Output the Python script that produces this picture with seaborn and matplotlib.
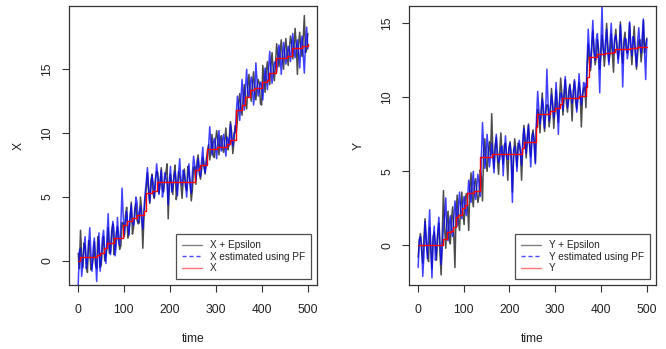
import numpy as np
import pandas as pd
import matplotlib
matplotlib.use("Agg")
import matplotlib.pyplot as plt
import seaborn as sns
from matplotlib.lines import Line2D

# time axis (200 samples over 1..500)
time = np.linspace(1, 500, 200)

# X panel: observed (X + Epsilon) and particle filter estimate
x_obs = [0.6, -0.6, 2.4, 0.5, -0.5, 1.4, 1.2, -0.2, -0.9, 1.6,
         0.9, -0.7, -0.4, 0.2, 1.5, -0.3, -0.6, 1.9, 1.3, -0.5,
         -0.3, 1.3, 1.9, 0.0, 0.4, 1.1, 2.6, 0.6, 0.7, 2.4,
         2.9, 0.5, 1.0, 2.2, 2.7, 1.6, 0.9, 1.2, 3.0, 2.9,
         1.9, 3.6, 4.2, 1.8, 2.3, 3.3, 4.6, 2.1, 2.6, 4.0,
         4.5, 3.2, 2.9, 3.0, 5.0, 3.9, 1.0, 3.4, 4.8, 5.6,
         6.9, 5.5, 4.5, 6.3, 6.8, 5.2, 4.9, 6.5, 7.0, 6.9,
         5.3, 6.0, 7.3, 5.6, 5.4, 6.4, 6.9, 7.6, 3.3, 5.9,
         6.8, 5.9, 5.2, 6.8, 7.5, 4.8, 5.6, 7.0, 6.6, 6.0,
         4.9, 6.3, 7.2, 5.8, 5.5, 7.4, 6.9, 6.1, 4.7, 5.6,
         7.3, 7.4, 6.0, 7.8, 8.3, 6.8, 6.4, 7.2, 8.1, 7.6,
         6.8, 7.9, 8.6, 9.1, 7.9, 8.6, 9.9, 8.2, 8.1, 9.4,
         10.2, 9.5, 8.3, 9.6, 9.8, 8.8, 8.5, 9.4, 10.4, 9.0,
         8.7, 9.8, 10.9, 10.1, 8.4, 9.3, 10.6, 10.0, 11.0, 12.3,
         13.1, 12.0, 11.4, 12.8, 13.8, 12.5, 11.9, 13.6, 14.6, 13.3,
         12.5, 13.9, 14.8, 13.3, 12.6, 13.6, 14.2, 13.9, 12.3, 12.2,
         15.3, 14.3, 13.2, 14.9, 15.6, 14.4, 13.8, 15.2, 16.3, 15.0,
         14.1, 15.4, 17.0, 16.1, 15.2, 16.4, 17.3, 15.9, 15.0, 16.6,
         17.4, 16.2, 15.3, 16.6, 17.6, 17.0, 15.8, 16.6, 18.2, 16.9,
         14.6, 17.0, 17.9, 16.6, 16.0, 17.4, 19.2, 16.3, 16.5, 17.8]
x_pf = [-1.9, 0.8, 1.0, -1.2, -0.3, 1.0, 1.9, -0.6, 0.0, 1.2,
        2.6, 0.7, -0.8, 1.0, 1.8, 0.2, -1.6, 0.6, 2.2, -0.8,
        0.2, 1.8, 2.4, 0.6, -0.2, 2.0, 3.7, 1.0, 0.5, 1.9,
        3.1, 2.5, 0.4, 1.3, 3.4, 1.8, 1.2, 2.9, 5.7, 3.6,
        2.1, 3.0, 3.9, 2.8, 2.0, 3.6, 4.4, 3.0, 2.8, 3.5,
        5.0, 4.6, 3.0, 3.8, 4.3, 3.3, 2.5, 4.1, 5.3, 6.2,
        7.3, 5.8, 4.6, 5.6, 6.7, 6.1, 5.0, 6.2, 7.6, 6.5,
        5.2, 6.3, 7.1, 5.0, 5.6, 6.9, 6.5, 6.1, 4.4, 6.3,
        7.4, 5.4, 5.8, 6.6, 7.0, 6.2, 5.1, 6.9, 8.0, 6.3,
        5.9, 7.1, 6.8, 6.1, 5.0, 6.5, 7.6, 6.0, 5.3, 6.9,
        8.2, 7.5, 6.3, 7.2, 8.0, 7.1, 6.6, 7.9, 8.9, 7.3,
        6.9, 7.6, 8.2, 8.9, 10.5, 9.3, 8.3, 9.2, 9.6, 9.0,
        8.0, 9.4, 10.2, 9.1, 8.6, 9.5, 9.9, 8.9, 8.2, 9.7,
        9.5, 9.0, 10.7, 9.4, 9.0, 10.0, 10.1, 11.5, 12.9, 12.2,
        11.0, 12.6, 14.2, 12.9, 11.8, 13.5, 15.0, 13.2, 12.8, 13.7,
        14.4, 13.9, 12.2, 13.1, 15.5, 14.1, 12.9, 13.4, 14.0, 13.8,
        12.6, 14.0, 15.1, 14.3, 13.4, 14.9, 16.4, 15.0, 13.9, 14.7,
        15.5, 15.6, 14.8, 15.6, 16.9, 16.2, 14.6, 15.8, 17.1, 16.3,
        15.4, 16.1, 16.8, 16.4, 15.6, 16.9, 17.8, 16.5, 15.9, 16.6,
        17.3, 16.3, 15.1, 16.9, 17.6, 16.1, 14.7, 17.0, 18.3, 16.6]
# true X (step breakpoints)
x_true_t = [1, 5, 41, 49, 56, 63, 78, 98, 107, 118, 128, 143, 148, 161, 172,
            255, 263, 266, 282, 303, 324, 330, 345, 356, 364, 374, 382, 401,
            411, 415, 430, 455, 466, 488, 500]
x_true = [0.0, 0.34, 0.47, 0.6, 1.0, 1.4, 1.8, 2.8, 3.1, 3.4, 3.6, 3.9, 5.35,
          5.5, 6.15, 7.1, 7.25, 7.5, 8.8, 8.95, 9.15, 9.45, 11.8, 12.2, 12.85,
          13.4, 13.55, 14.0, 14.15, 14.7, 15.9, 16.0, 16.7, 16.85, 16.95]

# Y panel
y_obs = [-0.8, 0.3, 0.8, -0.4, -1.2, 0.5, 1.8, 0.2, -0.5, -1.1,
         1.2, -0.2, -1.6, 0.6, 0.9, 0.1, -1.0, 0.7, 1.5, -0.6,
         -2.0, 0.9, 3.7, 1.2, -0.2, 1.6, 2.3, 0.5, 0.1, 1.8,
         2.6, 0.8, -1.5, 2.4, 3.4, 1.7, 1.0, 2.6, 3.6, 2.1,
         1.4, 3.2, 3.5, 2.7, 1.0, 3.9, 4.9, 3.3, 2.6, 4.2,
         4.5, 3.6, 2.9, 3.4, 5.1, 4.6, 3.0, 6.4, 7.2, 5.6,
         5.0, 6.3, 7.0, 6.1, 8.9, 6.4, 5.2, 6.7, 7.3, 5.8,
         4.8, 6.5, 7.6, 6.1, 5.5, 6.8, 6.9, 5.9, 4.4, 6.6,
         7.0, 6.2, 3.6, 5.8, 7.2, 6.5, 5.3, 6.9, 6.8, 6.3,
         4.4, 6.6, 8.1, 7.3, 5.9, 7.1, 8.2, 6.8, 6.0, 7.4,
         7.8, 7.1, 5.6, 8.1, 9.2, 8.7, 7.6, 9.1, 10.3, 8.6,
         7.7, 9.0, 9.5, 9.4, 8.0, 8.8, 10.6, 9.6, 7.9, 9.2,
         10.5, 9.0, 8.3, 9.8, 11.3, 10.3, 8.8, 10.0, 11.2, 9.6,
         9.0, 10.4, 10.9, 9.9, 8.4, 10.5, 11.1, 9.7, 9.2, 10.2,
         11.0, 10.3, 8.0, 10.0, 10.6, 10.7, 9.3, 11.9, 13.6, 12.4,
         11.8, 13.1, 14.5, 13.4, 12.2, 12.7, 13.9, 13.3, 11.9, 12.8,
         14.2, 13.4, 12.1, 13.1, 15.0, 13.6, 12.4, 13.0, 14.3, 12.9,
         11.7, 13.8, 14.6, 13.3, 12.6, 13.5, 15.1, 12.9, 12.3, 13.8,
         14.4, 13.2, 13.0, 13.7, 15.0, 13.4, 12.2, 13.6, 14.8, 13.1,
         11.9, 12.9, 13.8, 13.9, 12.4, 13.2, 15.2, 13.0, 13.6, 14.0]
y_pf = [-1.5, 0.4, 0.6, 0.0, -2.1, -0.7, 1.6, 0.5, -0.9, 0.8,
        2.4, -0.1, -2.2, 0.3, 1.3, -1.0, -0.4, 0.9, 1.9, 0.2,
        -1.3, 0.0, 1.2, 1.9, 3.2, 1.1, 0.3, 1.5, 2.0, 1.0,
        0.6, 1.8, 3.0, 2.3, 1.3, 2.6, 3.6, 2.4, 1.8, 2.9,
        3.3, 2.4, 2.0, 3.2, 4.4, 3.7, 2.9, 4.1, 5.0, 3.5,
        3.1, 4.0, 4.8, 4.2, 3.3, 6.0, 8.3, 6.6, 5.2, 6.1,
        7.5, 6.4, 5.3, 6.0, 6.9, 5.9, 4.9, 6.6, 7.5, 6.2,
        5.6, 5.8, 6.6, 6.7, 4.7, 6.3, 7.4, 6.0, 5.8, 6.5,
        6.9, 5.6, 2.9, 6.4, 6.7, 6.1, 5.0, 6.6, 7.1, 6.4,
        5.4, 7.0, 7.9, 6.9, 6.2, 7.4, 8.1, 6.7, 5.3, 7.2,
        7.6, 6.6, 5.5, 8.6, 10.4, 9.2, 8.2, 8.8, 9.9, 9.4,
        7.9, 9.1, 11.9, 9.7, 8.4, 9.3, 10.2, 9.5, 8.6, 9.1,
        11.0, 9.8, 7.5, 9.6, 10.3, 10.1, 9.1, 10.4, 11.4, 10.2,
        9.3, 9.8, 10.8, 10.3, 9.6, 10.1, 11.2, 10.5, 9.0, 9.9,
        11.6, 10.4, 9.5, 10.2, 11.0, 10.9, 10.1, 12.3, 14.6, 13.2,
        12.0, 13.6, 15.2, 13.1, 12.5, 13.9, 14.3, 12.6, 10.3, 13.5,
        16.2, 13.3, 12.8, 13.8, 14.6, 13.0, 12.2, 13.7, 15.0, 13.4,
        12.9, 14.0, 14.2, 13.6, 12.3, 13.1, 14.9, 13.7, 10.7, 13.3,
        14.0, 13.9, 12.6, 13.2, 15.1, 13.6, 12.8, 14.1, 13.9, 13.0,
        12.1, 13.8, 14.7, 13.5, 13.0, 14.2, 15.3, 13.1, 11.2, 13.9]
y_true_t = [1, 51, 56, 63, 72, 78, 83, 89, 96, 103, 107, 122, 135, 137, 158,
            163, 227, 231, 258, 261, 282, 289, 300, 311, 314, 336, 351, 365,
            367, 369, 373, 391, 409, 427, 431, 456, 464, 478, 500]
y_true = [0.0, 0.0, 0.4, 0.92, 0.97, 1.26, 1.94, 2.05, 2.5, 2.72, 3.56, 3.7,
          3.8, 5.95, 6.0, 6.17, 6.6, 6.96, 8.0, 8.85, 8.9, 9.1, 9.25, 9.55,
          9.93, 9.98, 10.1, 10.1, 10.7, 11.4, 12.75, 12.93, 13.0, 13.08,
          13.24, 13.24, 13.3, 13.38, 13.42]

sns.set_style("white")
plt.rcParams['font.family'] = ['Liberation Sans', 'DejaVu Sans']

fig = plt.figure(figsize=(6.66, 3.49), dpi=100)
ax1 = fig.add_axes([69 / 666, 64 / 349, 248 / 666, 279 / 349])
ax2 = fig.add_axes([409 / 666, 64 / 349, 247 / 666, 279 / 349])

panels = [
    (ax1, "X", x_obs, x_pf, x_true_t, x_true, (-1.88, 19.95)),
    (ax2, "Y", y_obs, y_pf, y_true_t, y_true, (-2.68, 16.17)),
]

for ax, name, obs, pf, tt, tv, ylim in panels:
    sns.lineplot(x=time, y=obs, ax=ax, color="black", alpha=0.7,
                 linewidth=1.1, estimator=None, sort=False)
    sns.lineplot(x=time, y=pf, ax=ax, color="blue", alpha=0.75,
                 linewidth=1.1, estimator=None, sort=False)
    sns.lineplot(x=tt, y=tv, ax=ax, color="red", linewidth=1.0,
                 estimator=None, sort=False, drawstyle="steps-post")

    ax.set_xlim(-19, 520)
    ax.set_ylim(*ylim)
    ax.set_xticks([0, 100, 200, 300, 400, 500])
    ax.set_yticks([0, 5, 10, 15])
    ax.tick_params(axis="both", direction="out", length=4.8, width=0.8,
                   color="#333333", labelsize=8.7, labelcolor="#222222",
                   bottom=True, left=True)
    ax.tick_params(axis="x", pad=9)
    ax.tick_params(axis="y", pad=6.5)
    for lab in ax.get_yticklabels():
        lab.set_rotation(90)
        lab.set_va("center")
    for sp in ax.spines.values():
        sp.set_visible(True)
        sp.set_color("#333333")
        sp.set_linewidth(0.9)
    ax.set_xlabel("time", fontsize=8.7, color="#222222", labelpad=12)
    ax.set_ylabel(name, fontsize=8.7, color="#222222", labelpad=12)

    handles = [
        Line2D([], [], color="black", alpha=0.5, linewidth=1.0),
        Line2D([], [], color="blue", alpha=0.7, linewidth=1.0, linestyle=(0, (3, 2))),
        Line2D([], [], color="red", alpha=0.55, linewidth=1.0),
    ]
    labels = [f"{name} + Epsilon", f"{name} estimated using PF", name]
    leg = ax.legend(handles, labels, loc="lower right", fontsize=7.2,
                    frameon=True, fancybox=False, borderpad=0.6,
                    handlelength=2.0, handletextpad=0.8, labelspacing=0.15,
                    borderaxespad=0.6)
    leg.get_frame().set_edgecolor("#222222")
    leg.get_frame().set_linewidth(0.9)
    for t in leg.get_texts():
        t.set_color("#222222")

fig.savefig("out.png", dpi=100)
